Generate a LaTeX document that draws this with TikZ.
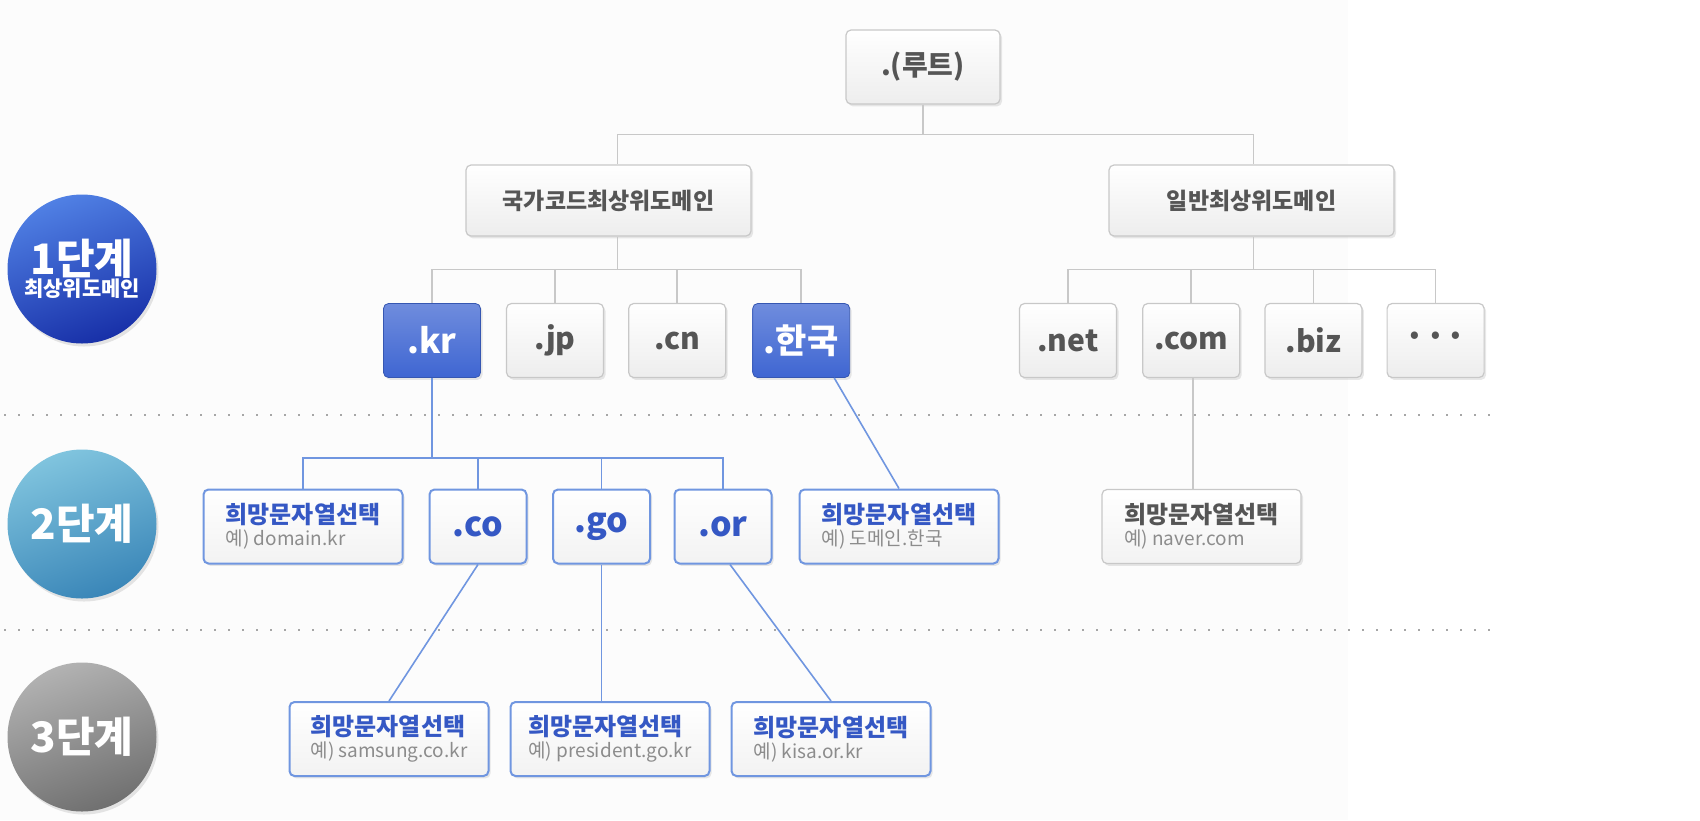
\documentclass[tikz,border=0pt]{standalone}
\usepackage{fontspec}
\setmainfont{Noto Sans CJK KR}
\usepackage{xcolor}
\usepackage{tikz}
\usetikzlibrary{positioning, shadows}

\definecolor{linegray}{HTML}{C8C8C8}
\definecolor{lineblue}{HTML}{7096E0}
\definecolor{boxblue}{HTML}{3F66D2}
\definecolor{textblue}{HTML}{3558C4}
\definecolor{textgray}{HTML}{555555}
\definecolor{hintgray}{HTML}{8C8C8C}
\definecolor{bgfill}{HTML}{FCFCFC}

\newcommand{\wish}[1]{{\bfseries 희망문자열선택}\\[-2pt]{\fontsize{9.5}{11}\selectfont\color{hintgray}예) #1}}

\begin{document}
\begin{tikzpicture}[x=0.5pt, y=-0.5pt,
    gline/.style={draw=linegray, line width=0.8pt},
    bline/.style={draw=lineblue, line width=0.8pt},
    dotline/.style={draw=black!35, line width=1pt, dash pattern=on 1pt off 6pt},
    box/.style={rectangle, rounded corners=2.5pt, minimum height=37pt, inner sep=2pt,
        drop shadow={opacity=0.18, shadow xshift=1pt, shadow yshift=-1.2pt}},
    graybox/.style={box, draw=linegray, line width=0.6pt, top color=white, bottom color=black!7, text=textgray},
    bluebox/.style={box, draw=boxblue!85!black, top color=boxblue!75!white, bottom color=boxblue,
        text=white, minimum width=48.5pt, font=\fontsize{17}{18}\selectfont\bfseries},
    tld/.style={graybox, minimum width=48.5pt, font=\fontsize{15}{16}\selectfont\bfseries},
    sub/.style={box, draw=lineblue, line width=1pt, top color=white, bottom color=black!5,
        text=textblue, minimum width=48.5pt, font=\fontsize{17}{18}\selectfont\bfseries},
    pick/.style={box, draw=lineblue, line width=1pt, top color=white, bottom color=black!5,
        text=textblue, minimum width=99.5pt, align=left, font=\fontsize{12}{13}\selectfont},
    stage/.style={circle, minimum size=74.5pt, text=white, align=center, inner sep=0pt,
        drop shadow={opacity=0.2, shadow xshift=1pt, shadow yshift=-1.5pt}}
]

    \useasboundingbox (0,0) rectangle (1700,820);
    \fill[bgfill] (0,0) rectangle (1348,820);

    % level separators
    \draw[dotline] (4,415) -- (1492,415);
    \draw[dotline] (4,630) -- (1492,630);

    % stage badges
    \node[stage, top color={rgb,255:red,80;green,128;blue,228}, bottom color={rgb,255:red,24;green,48;blue,168}, shading angle=20] (lv1) at (82,269)
        {{\fontsize{21}{22}\selectfont\bfseries 1단계}\\[-1pt]{\fontsize{10.5}{11}\selectfont\bfseries 최상위도메인}};
    \node[stage, top color={rgb,255:red,128;green,196;blue,222}, bottom color={rgb,255:red,58;green,134;blue,184}, shading angle=20] (lv2) at (82,524)
        {\fontsize{21}{22}\selectfont\bfseries 2단계};
    \node[stage, top color={rgb,255:red,178;green,178;blue,178}, bottom color={rgb,255:red,112;green,112;blue,112}, shading angle=20] (lv3) at (82,737)
        {\fontsize{21}{22}\selectfont\bfseries 3단계};

    % root and top level
    \node[graybox, minimum width=77pt, font=\fontsize{14}{15}\selectfont\bfseries] (root) at (923,67) {.(루트)};
    \node[graybox, minimum width=142.5pt, minimum height=35.5pt, font=\fontsize{11.5}{13}\selectfont\bfseries] (cc) at (608.5,200.5) {국가코드최상위도메인};
    \node[graybox, minimum width=142.5pt, minimum height=35.5pt, font=\fontsize{11.5}{13}\selectfont\bfseries] (gen) at (1251.5,200.5) {일반최상위도메인};

    % 1st level
    \node[bluebox] (kr) at (432,340.5) {.kr};
    \node[tld, right=12.5pt of kr] (jp) {.jp};
    \node[tld, right=12pt of jp] (cn) {.cn};
    \node[bluebox, right=13pt of cn] (hk) {.한국};
    \node[tld] (net) at (1068,340.5) {.net};
    \node[tld, right=12.5pt of net] (com) {.com};
    \node[tld, right=12pt of com] (biz) {.biz};
    \node[tld, right=12pt of biz, font=\fontsize{17}{18}\selectfont\bfseries] (more) {···};

    % 2nd level
    \node[pick] (d1) at (303,526.5) {\wish{domain.kr}};
    \node[sub] (co) at (478,526.5) {.co};
    \node[sub] (go) at (601.5,526.5) {.go};
    \node[sub] (or) at (723,526.5) {.or};
    \node[pick] (d2) at (899,526.5) {\wish{도메인.한국}};
    \node[pick, draw=linegray, line width=0.6pt, text=textgray] (d3) at (1201.5,526.5) {\wish{naver.com}};

    % 3rd level
    \node[pick] (s) at (389,739) {\wish{samsung.co.kr}};
    \node[pick, right=10pt of s] (p) {\wish{president.go.kr}};
    \node[pick, right=10pt of p] (k) {\wish{kisa.or.kr}};

    % connectors
    \draw[gline] (root.south) -- ++(0,30) coordinate (rootfork);
    \draw[gline] (rootfork) -| ([xshift=4.5pt]cc.north);
    \draw[gline] (rootfork) -| ([xshift=1pt]gen.north);
    \draw[gline] ([xshift=4.5pt]cc.south) -- ++(0,33) coordinate (ccfork);
    \foreach \n in {kr,jp,cn,hk}
        \draw[gline] (ccfork) -| (\n.north);
    \draw[gline] ([xshift=1pt]gen.south) -- ++(0,33) coordinate (genfork);
    \foreach \n in {net,com,biz,more}
        \draw[gline] (genfork) -| (\n.north);
    \draw[bline] (kr.south) -- ++(0,80) coordinate (krfork);
    \foreach \n in {d1,co,go,or}
        \draw[bline] (krfork) -| (\n.north);
    \draw[bline] ([xshift=16.5pt]hk.south) -- (d2.north);
    \draw[gline] ([xshift=1pt]com.south) -- ([xshift=1pt]com.south |- d3.north);
    \draw[bline] (co.south) -- (s.north);
    \draw[bline] (go.south) -- (go.south |- p.north);
    \draw[bline] ([xshift=3.5pt]or.south) -- (k.north);

\end{tikzpicture}
\end{document}
